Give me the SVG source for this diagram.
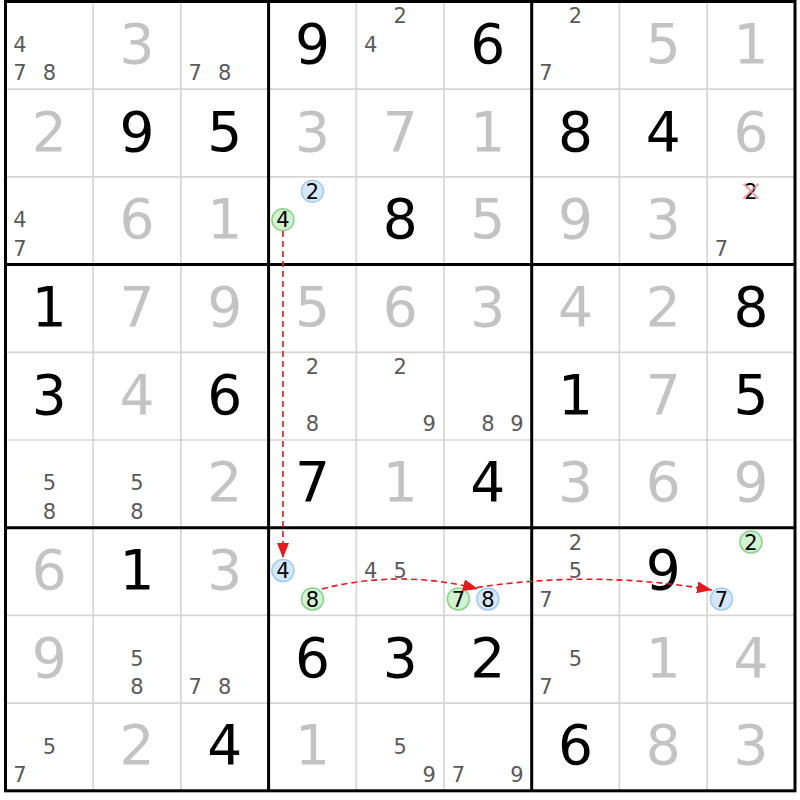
<svg xmlns="http://www.w3.org/2000/svg" width="800" height="800" viewBox="0 0 800 800">
<style>
.g{font-family:"DejaVu Sans",Verdana,sans-serif;font-size:55px;text-anchor:middle;fill:#000}
.s{font-family:"DejaVu Sans",Verdana,sans-serif;font-size:55px;text-anchor:middle;fill:#c3c3c3}
.c{font-family:"DejaVu Sans",Verdana,sans-serif;font-size:21px;text-anchor:middle;fill:#5a5a5a}
.k{font-family:"DejaVu Sans",Verdana,sans-serif;font-size:21px;text-anchor:middle;fill:#000}
.thin{stroke:#d6d6d6;stroke-width:1.7}
.thick{stroke:#000;stroke-width:3}
.blue{fill:#d5e8fb;stroke:#a3cdf3;stroke-width:1.6}
.green{fill:#d3f1d3;stroke:#8cd68c;stroke-width:1.6}
.link{fill:none;stroke:#e8171b;stroke-width:1.6;stroke-dasharray:6,4}
</style>
<defs>
<marker id="ah" markerUnits="userSpaceOnUse" markerWidth="15" markerHeight="12" refX="15" refY="6" orient="auto">
<path d="M0,0 L15,6 L0,12 z" fill="#e8171b"/>
</marker>
</defs>
<rect width="800" height="800" fill="#fff"/>
<g id="grid">
<path class="thin" d="M93.2,1.5V790.8M180.9,1.5V790.8M356.3,1.5V790.8M444,1.5V790.8M619.4,1.5V790.8M707.1,1.5V790.8M5.5,89.2H795M5.5,176.9H795M5.5,352.3H795M5.5,440H795M5.5,615.4H795M5.5,703.1H795"/>
<path class="thick" d="M268.6,1.5V790.8M531.7,1.5V790.8M5.5,264.6H795M5.5,527.7H795"/>
<rect class="thick" x="5.5" y="1.5" width="789.5" height="789.3" fill="none"/>
</g>
<g id="r1c1"><text class="c" x="19.85" y="51.95">4</text><text class="c" x="19.85" y="80.45">7</text><text class="c" x="49.35" y="80.45">8</text></g>
<g id="r1c2"><text class="s" x="137.05" y="62.85">3</text></g>
<g id="r1c3"><text class="c" x="195.25" y="80.45">7</text><text class="c" x="224.75" y="80.45">8</text></g>
<g id="r1c4"><text class="g" x="312.45" y="62.85">9</text></g>
<g id="r1c5"><text class="c" x="400.15" y="23.45">2</text><text class="c" x="370.65" y="51.95">4</text></g>
<g id="r1c6"><text class="g" x="487.85" y="62.85">6</text></g>
<g id="r1c7"><text class="c" x="575.55" y="23.45">2</text><text class="c" x="546.05" y="80.45">7</text></g>
<g id="r1c8"><text class="s" x="663.25" y="62.85">5</text></g>
<g id="r1c9"><text class="s" x="750.95" y="62.85">1</text></g>
<g id="r2c1"><text class="s" x="49.35" y="150.55">2</text></g>
<g id="r2c2"><text class="g" x="137.05" y="150.55">9</text></g>
<g id="r2c3"><text class="g" x="224.75" y="150.55">5</text></g>
<g id="r2c4"><text class="s" x="312.45" y="150.55">3</text></g>
<g id="r2c5"><text class="s" x="400.15" y="150.55">7</text></g>
<g id="r2c6"><text class="s" x="487.85" y="150.55">1</text></g>
<g id="r2c7"><text class="g" x="575.55" y="150.55">8</text></g>
<g id="r2c8"><text class="g" x="663.25" y="150.55">4</text></g>
<g id="r2c9"><text class="s" x="750.95" y="150.55">6</text></g>
<g id="r3c1"><text class="c" x="19.85" y="227.35">4</text><text class="c" x="19.85" y="255.85">7</text></g>
<g id="r3c2"><text class="s" x="137.05" y="238.25">6</text></g>
<g id="r3c3"><text class="s" x="224.75" y="238.25">1</text></g>
<g id="r3c4"><circle class="blue" cx="312.45" cy="191.25" r="11"/><text class="k" x="312.45" y="198.85">2</text><circle class="green" cx="282.95" cy="219.75" r="11"/><text class="k" x="282.95" y="227.35">4</text></g>
<g id="r3c5"><text class="g" x="400.15" y="238.25">8</text></g>
<g id="r3c6"><text class="s" x="487.85" y="238.25">5</text></g>
<g id="r3c7"><text class="s" x="575.55" y="238.25">9</text></g>
<g id="r3c8"><text class="s" x="663.25" y="238.25">3</text></g>
<g id="r3c9"><text class="k" x="750.95" y="198.85">2</text><path d="M743.5,183.8L758.4,198.7M758.4,183.8L743.5,198.7" stroke="#f28a8a" stroke-opacity="0.8" stroke-width="2"/><text class="c" x="721.45" y="255.85">7</text></g>
<g id="r4c1"><text class="g" x="49.35" y="325.95">1</text></g>
<g id="r4c2"><text class="s" x="137.05" y="325.95">7</text></g>
<g id="r4c3"><text class="s" x="224.75" y="325.95">9</text></g>
<g id="r4c4"><text class="s" x="312.45" y="325.95">5</text></g>
<g id="r4c5"><text class="s" x="400.15" y="325.95">6</text></g>
<g id="r4c6"><text class="s" x="487.85" y="325.95">3</text></g>
<g id="r4c7"><text class="s" x="575.55" y="325.95">4</text></g>
<g id="r4c8"><text class="s" x="663.25" y="325.95">2</text></g>
<g id="r4c9"><text class="g" x="750.95" y="325.95">8</text></g>
<g id="r5c1"><text class="g" x="49.35" y="413.65">3</text></g>
<g id="r5c2"><text class="s" x="137.05" y="413.65">4</text></g>
<g id="r5c3"><text class="g" x="224.75" y="413.65">6</text></g>
<g id="r5c4"><text class="c" x="312.45" y="374.25">2</text><text class="c" x="312.45" y="431.25">8</text></g>
<g id="r5c5"><text class="c" x="400.15" y="374.25">2</text><text class="c" x="429.15" y="431.25">9</text></g>
<g id="r5c6"><text class="c" x="487.85" y="431.25">8</text><text class="c" x="516.85" y="431.25">9</text></g>
<g id="r5c7"><text class="g" x="575.55" y="413.65">1</text></g>
<g id="r5c8"><text class="s" x="663.25" y="413.65">7</text></g>
<g id="r5c9"><text class="g" x="750.95" y="413.65">5</text></g>
<g id="r6c1"><text class="c" x="49.35" y="490.45">5</text><text class="c" x="49.35" y="518.95">8</text></g>
<g id="r6c2"><text class="c" x="137.05" y="490.45">5</text><text class="c" x="137.05" y="518.95">8</text></g>
<g id="r6c3"><text class="s" x="224.75" y="501.35">2</text></g>
<g id="r6c4"><text class="g" x="312.45" y="501.35">7</text></g>
<g id="r6c5"><text class="s" x="400.15" y="501.35">1</text></g>
<g id="r6c6"><text class="g" x="487.85" y="501.35">4</text></g>
<g id="r6c7"><text class="s" x="575.55" y="501.35">3</text></g>
<g id="r6c8"><text class="s" x="663.25" y="501.35">6</text></g>
<g id="r6c9"><text class="s" x="750.95" y="501.35">9</text></g>
<g id="r7c1"><text class="s" x="49.35" y="589.05">6</text></g>
<g id="r7c2"><text class="g" x="137.05" y="589.05">1</text></g>
<g id="r7c3"><text class="s" x="224.75" y="589.05">3</text></g>
<g id="r7c4"><circle class="blue" cx="282.95" cy="570.55" r="11"/><text class="k" x="282.95" y="578.15">4</text><circle class="green" cx="312.45" cy="599.05" r="11"/><text class="k" x="312.45" y="606.65">8</text></g>
<g id="r7c5"><text class="c" x="370.65" y="578.15">4</text><text class="c" x="400.15" y="578.15">5</text></g>
<g id="r7c6"><circle class="green" cx="458.35" cy="599.05" r="11"/><text class="k" x="458.35" y="606.65">7</text><circle class="blue" cx="487.85" cy="599.05" r="11"/><text class="k" x="487.85" y="606.65">8</text></g>
<g id="r7c7"><text class="c" x="575.55" y="549.65">2</text><text class="c" x="575.55" y="578.15">5</text><text class="c" x="546.05" y="606.65">7</text></g>
<g id="r7c8"><text class="g" x="663.25" y="589.05">9</text></g>
<g id="r7c9"><circle class="green" cx="750.95" cy="542.05" r="11"/><text class="k" x="750.95" y="549.65">2</text><circle class="blue" cx="721.45" cy="599.05" r="11"/><text class="k" x="721.45" y="606.65">7</text></g>
<g id="r8c1"><text class="s" x="49.35" y="676.75">9</text></g>
<g id="r8c2"><text class="c" x="137.05" y="665.85">5</text><text class="c" x="137.05" y="694.35">8</text></g>
<g id="r8c3"><text class="c" x="195.25" y="694.35">7</text><text class="c" x="224.75" y="694.35">8</text></g>
<g id="r8c4"><text class="g" x="312.45" y="676.75">6</text></g>
<g id="r8c5"><text class="g" x="400.15" y="676.75">3</text></g>
<g id="r8c6"><text class="g" x="487.85" y="676.75">2</text></g>
<g id="r8c7"><text class="c" x="575.55" y="665.85">5</text><text class="c" x="546.05" y="694.35">7</text></g>
<g id="r8c8"><text class="s" x="663.25" y="676.75">1</text></g>
<g id="r8c9"><text class="s" x="750.95" y="676.75">4</text></g>
<g id="r9c1"><text class="c" x="49.35" y="753.55">5</text><text class="c" x="19.85" y="782.05">7</text></g>
<g id="r9c2"><text class="s" x="137.05" y="764.45">2</text></g>
<g id="r9c3"><text class="g" x="224.75" y="764.45">4</text></g>
<g id="r9c4"><text class="s" x="312.45" y="764.45">1</text></g>
<g id="r9c5"><text class="c" x="400.15" y="753.55">5</text><text class="c" x="429.15" y="782.05">9</text></g>
<g id="r9c6"><text class="c" x="458.35" y="782.05">7</text><text class="c" x="516.85" y="782.05">9</text></g>
<g id="r9c7"><text class="g" x="575.55" y="764.45">6</text></g>
<g id="r9c8"><text class="s" x="663.25" y="764.45">8</text></g>
<g id="r9c9"><text class="s" x="750.95" y="764.45">3</text></g>
<g id="connectors">
<path class="link" d="M282.95,231 V558" marker-end="url(#ah)"/>
<path class="link" d="M322,589 Q400,569 478,589" marker-end="url(#ah)"/>
<path class="link" d="M467,589 Q590,569 712,590" marker-end="url(#ah)"/>
</g>
</svg>
